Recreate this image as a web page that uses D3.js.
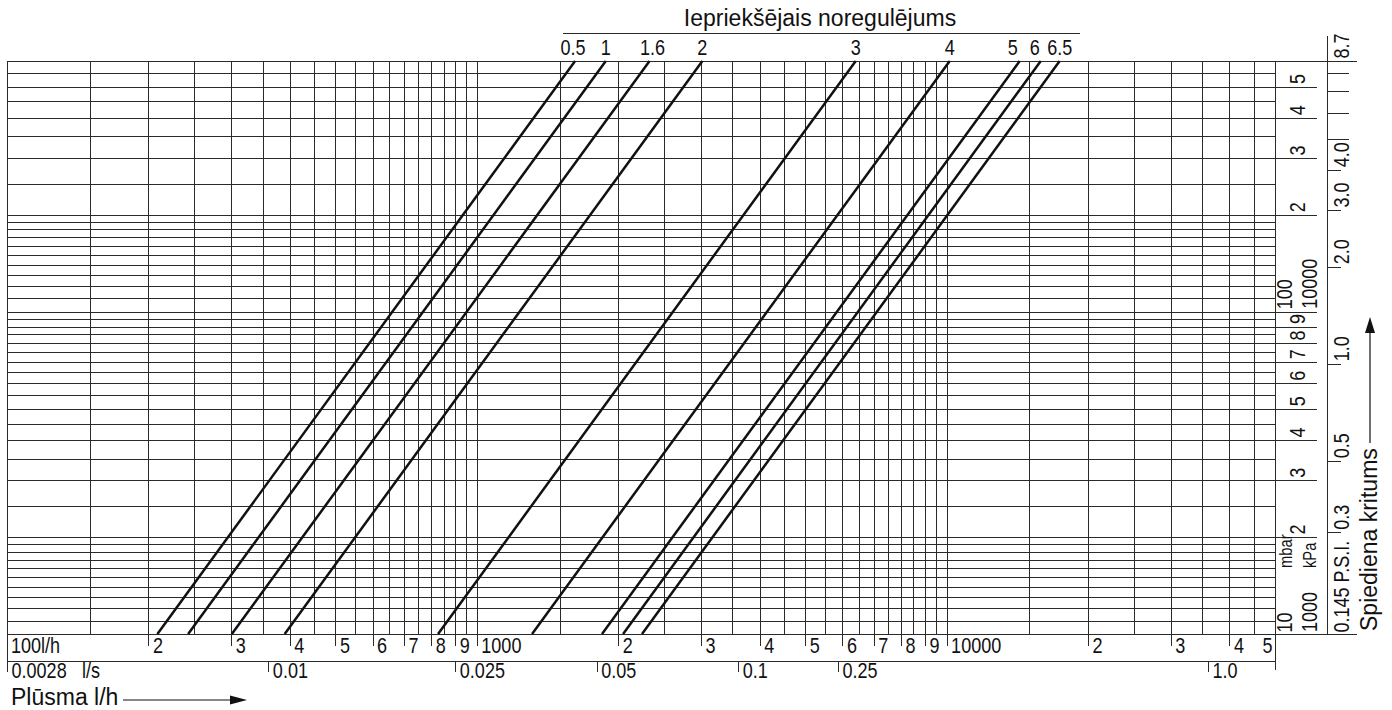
<!DOCTYPE html>
<html>
<head>
<meta charset="utf-8">
<script src="https://cdn.jsdelivr.net/npm/d3@7"></script>
<style>
  body { margin: 0; background: #fff; }
  svg { display: block; }
  text { font-family: "Liberation Sans", Arial, sans-serif; font-size: 22px; fill: #111; }
</style>
</head>
<body>
<svg id="chart" width="1392" height="710"></svg>
<script>
// preset curves: flow (l/h) where each line meets 10 mbar and 600 mbar
const presetNames = ["0.5", "1", "1.6", "2", "3", "4", "5", "6", "6.5"];
const flowAt10mbar = [209, 243, 301, 390, 827, 1311, 1847, 2048, 2247];
const flowAt600mbar = [1619, 1882, 2332, 3021, 6406, 10155, 14307, 15864, 17405];

// flow axis (l/h)
const flowTicks = [200, 300, 400, 500, 600, 700, 800, 900, 1000, 2000, 3000, 4000, 5000, 6000, 7000, 8000, 9000, 10000, 20000, 30000, 40000, 50000];
const flowTickLabels = ["2", "3", "4", "5", "6", "7", "8", "9", "1000", "2", "3", "4", "5", "6", "7", "8", "9", "10000", "2", "3", "4", "5"];

// l/s row, placed at the flow (l/h) where the labels sit
const lsTicks = [100, 360, 900, 1800, 3600, 5870, 36000];
const lsLabels = ["0.0028", "0.01", "0.025", "0.05", "0.1", "0.25", "1.0"];

// pressure drop axis (mbar)
const mbarTicks = [10, 20, 30, 40, 50, 60, 70, 80, 90, 100, 200, 300, 400, 500];
const mbarLabels = ["10", "2", "3", "4", "5", "6", "7", "8", "9", "100", "2", "3", "4", "5"];
const paTicks = [10, 100];
const paLabels = ["1000", "10000"];

// P.S.I. column
const psiTicks = [0.145, 0.3, 0.5, 1.0, 2.0, 3.0, 4.0, 8.7];
const psiLabels = ["0.145 P.S.I.", "0.3", "0.5", "1.0", "2.0", "3.0", "4.0", "8.7"];
const psiMinor = [5, 6, 7, 8];

// grid: [from, to, step]
const xGridSteps = [[100, 1000, 50], [1000, 10000, 500], [10000, 50000, 5000]];
const yGridSteps = [[10, 20, 1], [20, 100, 5], [100, 200, 10], [200, 600, 50]];

const svg = d3.select('#chart');
const L = 7, R = 1275, T = 61, B = 634;
const PSI = 68.948;
const NARROW = 0.82;   // no narrow face installed, squeeze the regular one

const x = d3.scaleLog().domain([100, 50000]).range([L, R]);
const y = d3.scaleLog().domain([10, 600]).range([B, T]);

const lineCol = '#2a2a2a';

// place a narrow label: optional rotation
function narrow(sel, tx, ty, rot) {
    sel.attr('x', 0).attr('y', 0).attr('dy', 0)
        .attr('transform', (d, i) => {
            const a = typeof tx === 'function' ? tx(d, i) : tx;
            const b = typeof ty === 'function' ? ty(d, i) : ty;
            return `translate(${a},${b})${rot ? ' rotate(-90)' : ''} scale(${NARROW},1)`;
        });
    return sel;
}

// grid
const gx = [], gy = [];
xGridSteps.forEach(s => d3.range(s[0], s[1] + 1, s[2]).forEach(v => gx.push(v)));
yGridSteps.forEach(s => d3.range(s[0], s[1] + 0.001, s[2]).forEach(v => gy.push(v)));

const grid = svg.append('g').attr('stroke', lineCol).attr('stroke-width', 1).attr('shape-rendering', 'crispEdges');
grid.selectAll('.vx').data(gx).enter().append('line')
    .attr('x1', d => Math.round(x(d)) + 0.5).attr('x2', d => Math.round(x(d)) + 0.5)
    .attr('y1', T).attr('y2', B);
grid.selectAll('.hy').data(gy).enter().append('line')
    .attr('x1', L).attr('x2', R)
    .attr('y1', d => Math.round(y(d)) + 0.5).attr('y2', d => Math.round(y(d)) + 0.5);

// frame lines
const frame = svg.append('g').attr('stroke', lineCol).attr('stroke-width', 1).attr('shape-rendering', 'crispEdges');
frame.append('line').attr('x1', L + 0.5).attr('x2', L + 0.5).attr('y1', T).attr('y2', 670);
frame.append('line').attr('x1', R + 0.5).attr('x2', R + 0.5).attr('y1', T).attr('y2', 670);
frame.append('line').attr('x1', L).attr('x2', R).attr('y1', 661.5).attr('y2', 661.5);
frame.append('line').attr('x1', L).attr('x2', 1357).attr('y1', T + 0.5).attr('y2', T + 0.5);
frame.append('line').attr('x1', L).attr('x2', 1357).attr('y1', B + 0.5).attr('y2', B + 0.5);
frame.append('line').attr('x1', 1327.5).attr('x2', 1327.5).attr('y1', 36).attr('y2', B);
frame.append('line').attr('x1', 563).attr('x2', 1080).attr('y1', 33.5).attr('y2', 33.5);

// preset curves
const curve = d3.line().x(d => x(d[0])).y(d => y(d[1]));
svg.append('g').selectAll('path')
    .data(presetNames.map((n, i) => [[flowAt10mbar[i], 10], [flowAt600mbar[i], 600]]))
    .enter().append('path')
    .attr('d', curve)
    .attr('fill', 'none')
    .attr('stroke', '#111')
    .attr('stroke-width', 2.5);

// labels of crowded curves sit a bit to the left
const labelNudge = { "0.5": -2, "1.6": 3, "5": -7, "6": -6 };
narrow(svg.append('g').selectAll('text')
    .data(presetNames).enter().append('text')
    .attr('text-anchor', 'middle')
    .text(d => d), (d, i) => x(flowAt600mbar[i]) + (labelNudge[d] || 0), 55);

svg.append('text')
    .attr('x', 820).attr('y', 26)
    .attr('text-anchor', 'middle')
    .style('font-size', '23px')
    .text('Iepriekšējais noregulējums');

// flow axis, first row (l/h)
const ax1 = svg.append('g')
    .attr('transform', `translate(0,${B})`)
    .attr('color', lineCol)
    .call(d3.axisBottom(x).tickValues(flowTicks).tickFormat((d, i) => flowTickLabels[i]).tickSize(12).tickSizeOuter(0));
ax1.select('.domain').remove();
ax1.selectAll('.tick line').attr('shape-rendering', 'crispEdges');
narrow(ax1.selectAll('.tick text').attr('text-anchor', 'start'), 4, 19);
ax1.selectAll('.tick').filter(d => d === 50000).select('text')
    .attr('text-anchor', 'end').attr('transform', `translate(-3,19) scale(${NARROW},1)`);
ax1.selectAll('.tick').filter(d => d === 50000).select('line').remove();

narrow(svg.append('text').text('100l/h'), 11, 653);

// second row (l/s)
const ax2 = svg.append('g')
    .attr('transform', `translate(0,661)`)
    .attr('color', lineCol)
    .call(d3.axisBottom(x).tickValues(lsTicks).tickFormat((d, i) => lsLabels[i]).tickSize(11).tickSizeOuter(0));
ax2.select('.domain').remove();
ax2.selectAll('.tick line').attr('shape-rendering', 'crispEdges');
narrow(ax2.selectAll('.tick text').attr('text-anchor', 'start'), 4, 17);
narrow(svg.append('text').text('l/s'), 82, 678);

// bottom title with arrow
svg.append('text').attr('x', 11).attr('y', 705).style('font-size', '23px').text('Plūsma l/h');
svg.append('line').attr('x1', 123).attr('x2', 236).attr('y1', 700).attr('y2', 700)
    .attr('stroke', '#111').attr('stroke-width', 1.2);
svg.append('path').attr('d', 'M247,700 L230,695.5 L230,704.5 Z').attr('fill', '#111');

// mbar column
const ay = svg.append('g')
    .attr('transform', `translate(${R},0)`)
    .attr('color', lineCol)
    .call(d3.axisRight(y).tickValues(mbarTicks).tickFormat((d, i) => mbarLabels[i]).tickSize(42).tickSizeOuter(0));
ay.select('.domain').remove();
ay.selectAll('.tick line').attr('shape-rendering', 'crispEdges');
narrow(ay.selectAll('.tick text').attr('text-anchor', 'start'),
    d => (d === 10 || d === 100 ? 17 : 30), d => (d === 10 ? -2 : -3), true);

narrow(svg.append('g').selectAll('text')
    .data(paTicks).enter().append('text')
    .text((d, i) => paLabels[i]), 1317, d => y(d) - (d === 10 ? 2 : 3), true);
narrow(svg.append('text').style('font-size', '18px').text('mbar'), 1292, 568, true);
narrow(svg.append('text').style('font-size', '18px').text('kPa'), 1316, 568, true);

// P.S.I. column
const ap = svg.append('g')
    .attr('transform', 'translate(1327,0)')
    .attr('color', lineCol)
    .call(d3.axisRight(y).tickValues(psiTicks.map(v => v * PSI)).tickFormat((d, i) => psiLabels[i]).tickSize(14).tickSizeOuter(0));
ap.select('.domain').remove();
ap.selectAll('.tick line').attr('shape-rendering', 'crispEdges');
narrow(ap.selectAll('.tick text').attr('text-anchor', 'start'), 22, (d, i) => (i === 0 ? -2 : -3), true);

const ap2 = svg.append('g')
    .attr('transform', 'translate(1327,0)')
    .attr('color', lineCol)
    .call(d3.axisRight(y).tickValues(psiMinor.map(v => v * PSI)).tickFormat('').tickSize(22).tickSizeOuter(0));
ap2.select('.domain').remove();
ap2.selectAll('.tick line').attr('shape-rendering', 'crispEdges');

// side title with arrow
svg.append('text')
    .attr('transform', 'translate(1377,631) rotate(-90)')
    .style('font-size', '23px')
    .text('Spiediena kritums');
svg.append('line').attr('x1', 1370).attr('x2', 1370).attr('y1', 443).attr('y2', 328)
    .attr('stroke', '#111').attr('stroke-width', 1.2);
svg.append('path').attr('d', 'M1370,317 L1365,333 L1375,333 Z').attr('fill', '#111');
</script>
</body>
</html>
